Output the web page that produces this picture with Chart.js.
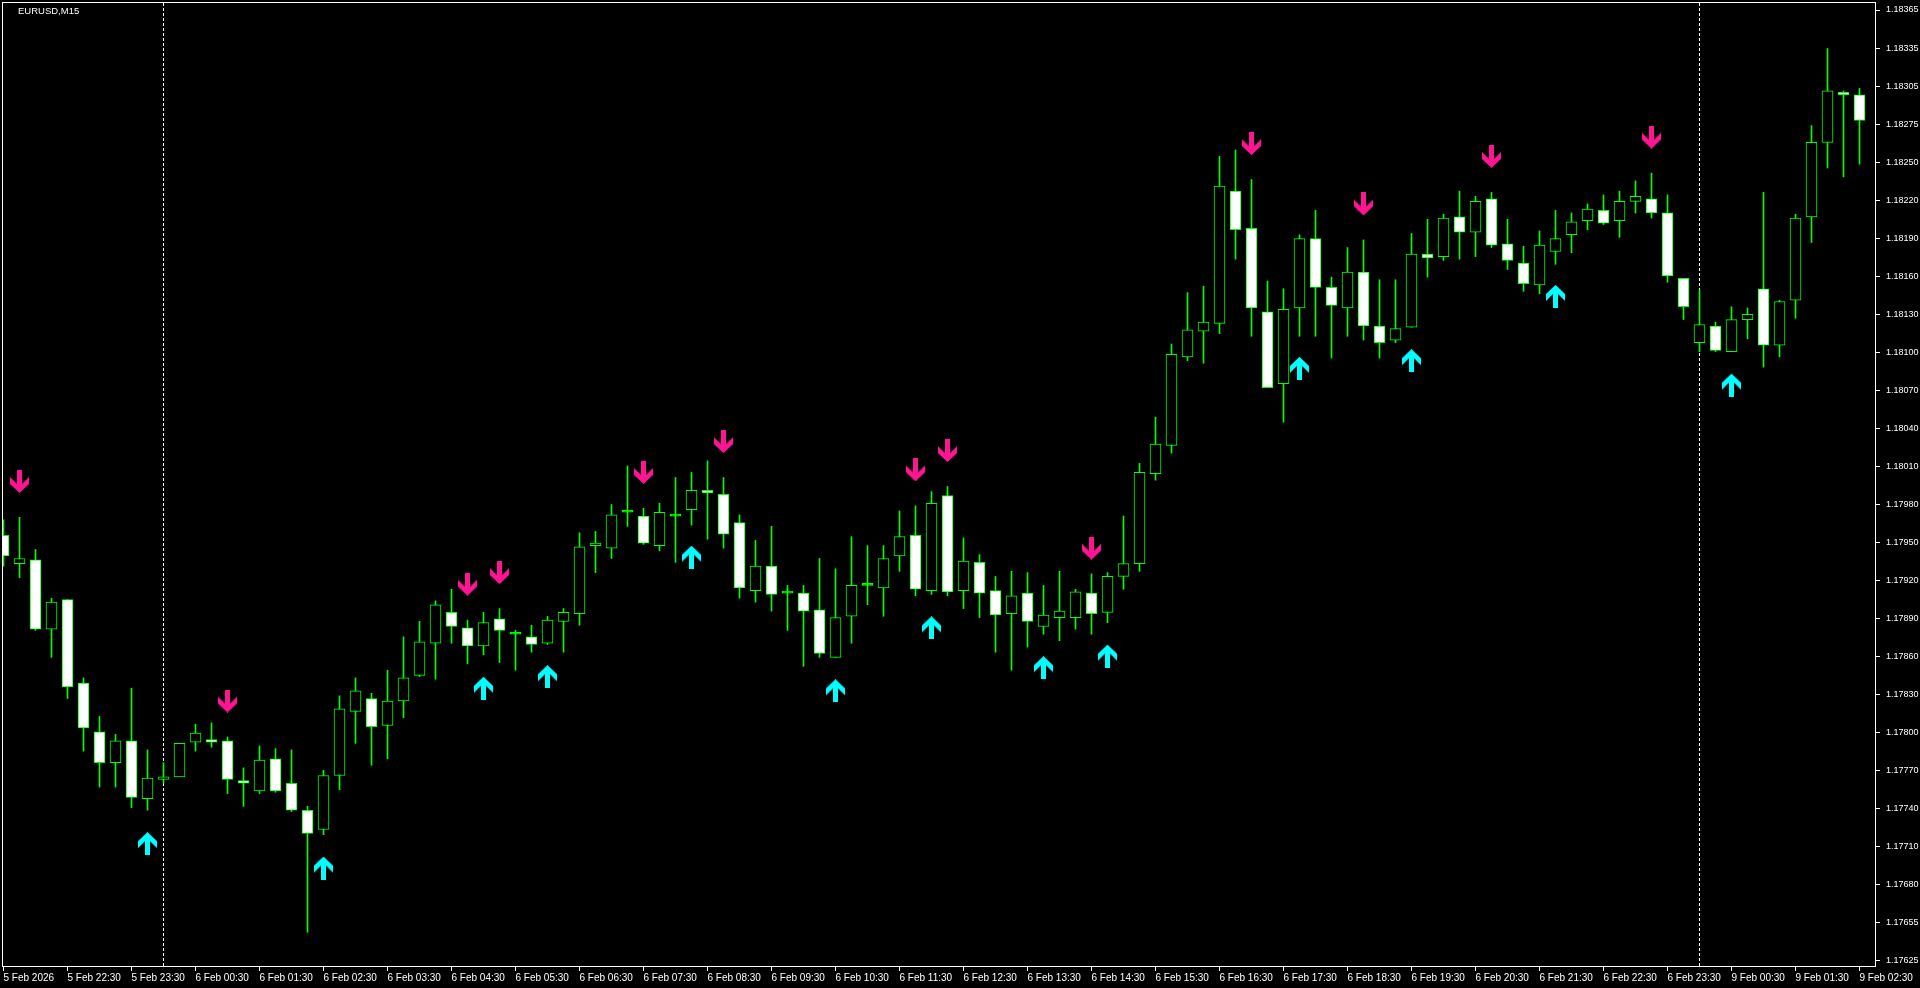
<!DOCTYPE html>
<html>
<head>
<meta charset="utf-8">
<title>EURUSD,M15</title>
<script src="https://cdn.jsdelivr.net/npm/chart.js@4.4.1/dist/chart.umd.min.js"></script>
<style>
  html, body { margin: 0; padding: 0; background: #000; overflow: hidden; }
  #chart { display: block; }
</style>
</head>
<body>
<canvas id="chart" width="1920" height="988"></canvas>
<script>
// EURUSD M15, 5 Feb 21:30 .. 9 Feb 02:30 (one entry per candle)
const opens = [
  1.17956, 1.17934, 1.17937, 1.17883, 1.17906, 1.17841, 1.17803, 1.17779, 1.17796, 1.17751,
  1.17766, 1.17768, 1.17795, 1.17797, 1.17796, 1.17765, 1.17757, 1.17782, 1.17763, 1.17742,
  1.17727, 1.17769, 1.17819, 1.17829, 1.17808, 1.17827, 1.17847, 1.17872, 1.17896, 1.17884,
  1.17870, 1.17891, 1.17879, 1.17877, 1.17872, 1.17889, 1.17895, 1.17948, 1.17946, 1.17974,
  1.17971, 1.17948, 1.17971, 1.17976, 1.17991, 1.17988, 1.17966, 1.17913, 1.17932, 1.17911,
  1.17911, 1.17898, 1.17861, 1.17893, 1.17917, 1.17915, 1.17940, 1.17956, 1.17913, 1.17987,
  1.17913, 1.17935, 1.17913, 1.17895, 1.17911, 1.17885, 1.17892, 1.17892, 1.17911, 1.17896,
  1.17924, 1.17934, 1.18004, 1.18026, 1.18095, 1.18115, 1.18121, 1.18224, 1.18195, 1.18130,
  1.18074, 1.18133, 1.18187, 1.18149, 1.18133, 1.18161, 1.18119, 1.18108, 1.18118, 1.18175,
  1.18173, 1.18204, 1.18192, 1.18218, 1.18183, 1.18168, 1.18151, 1.18177, 1.18190, 1.18201,
  1.18209, 1.18201, 1.18216, 1.18218, 1.18207, 1.18156, 1.18106, 1.18119, 1.18099, 1.18124,
  1.18148, 1.18104, 1.18139, 1.18204, 1.18262, 1.18301, 1.18299
];
const highs = [
  1.17968, 1.17970, 1.17945, 1.17907, 1.17906, 1.17845, 1.17815, 1.17801, 1.17837, 1.17789,
  1.17779, 1.17794, 1.17809, 1.17810, 1.17799, 1.17775, 1.17792, 1.17790, 1.17789, 1.17745,
  1.17773, 1.17831, 1.17845, 1.17833, 1.17851, 1.17877, 1.17889, 1.17905, 1.17914, 1.17890,
  1.17896, 1.17899, 1.17882, 1.17886, 1.17893, 1.17899, 1.17958, 1.17959, 1.17980, 1.18010,
  1.17977, 1.17981, 1.18001, 1.18005, 1.18014, 1.18001, 1.17972, 1.17952, 1.17963, 1.17917,
  1.17917, 1.17938, 1.17930, 1.17955, 1.17948, 1.17948, 1.17975, 1.17979, 1.17990, 1.17994,
  1.17954, 1.17941, 1.17924, 1.17928, 1.17927, 1.17917, 1.17928, 1.17914, 1.17926, 1.17927,
  1.17971, 1.18012, 1.18048, 1.18105, 1.18145, 1.18150, 1.18251, 1.18256, 1.18233, 1.18154,
  1.18148, 1.18190, 1.18209, 1.18157, 1.18180, 1.18186, 1.18155, 1.18155, 1.18191, 1.18202,
  1.18206, 1.18224, 1.18220, 1.18223, 1.18202, 1.18181, 1.18193, 1.18209, 1.18207, 1.18214,
  1.18221, 1.18224, 1.18232, 1.18238, 1.18221, 1.18156, 1.18147, 1.18122, 1.18134, 1.18133,
  1.18223, 1.18139, 1.18206, 1.18275, 1.18335, 1.18302, 1.18304
];
const lows = [
  1.17932, 1.17923, 1.17882, 1.17861, 1.17829, 1.17788, 1.17760, 1.17760, 1.17744, 1.17742,
  1.17763, 1.17768, 1.17788, 1.17791, 1.17755, 1.17745, 1.17755, 1.17756, 1.17741, 1.17647,
  1.17723, 1.17758, 1.17794, 1.17777, 1.17782, 1.17814, 1.17846, 1.17844, 1.17872, 1.17856,
  1.17863, 1.17857, 1.17851, 1.17865, 1.17871, 1.17865, 1.17886, 1.17927, 1.17938, 1.17963,
  1.17949, 1.17944, 1.17935, 1.17964, 1.17953, 1.17946, 1.17907, 1.17904, 1.17897, 1.17882,
  1.17854, 1.17861, 1.17861, 1.17872, 1.17902, 1.17893, 1.17928, 1.17909, 1.17910, 1.17909,
  1.17899, 1.17892, 1.17865, 1.17851, 1.17869, 1.17879, 1.17874, 1.17883, 1.17879, 1.17888,
  1.17914, 1.17928, 1.17999, 1.18020, 1.18092, 1.18090, 1.18113, 1.18171, 1.18111, 1.18071,
  1.18044, 1.18111, 1.18111, 1.18094, 1.18111, 1.18108, 1.18094, 1.18106, 1.18118, 1.18157,
  1.18170, 1.18171, 1.18173, 1.18180, 1.18163, 1.18146, 1.18144, 1.18167, 1.18176, 1.18194,
  1.18198, 1.18188, 1.18207, 1.18203, 1.18153, 1.18124, 1.18099, 1.18099, 1.18099, 1.18109,
  1.18087, 1.18095, 1.18125, 1.18184, 1.18242, 1.18235, 1.18245
];
const closes = [
  1.17940, 1.17938, 1.17883, 1.17904, 1.17838, 1.17806, 1.17779, 1.17796, 1.17752, 1.17767,
  1.17768, 1.17794, 1.17802, 1.17795, 1.17766, 1.17763, 1.17781, 1.17757, 1.17742, 1.17724,
  1.17769, 1.17821, 1.17835, 1.17807, 1.17827, 1.17845, 1.17873, 1.17902, 1.17885, 1.17870,
  1.17888, 1.17882, 1.17879, 1.17871, 1.17890, 1.17896, 1.17947, 1.17950, 1.17972, 1.17974,
  1.17950, 1.17974, 1.17971, 1.17991, 1.17989, 1.17957, 1.17915, 1.17932, 1.17910, 1.17911,
  1.17897, 1.17864, 1.17892, 1.17917, 1.17917, 1.17938, 1.17955, 1.17914, 1.17981, 1.17912,
  1.17936, 1.17911, 1.17894, 1.17909, 1.17889, 1.17894, 1.17897, 1.17912, 1.17895, 1.17924,
  1.17934, 1.18005, 1.18027, 1.18097, 1.18116, 1.18122, 1.18228, 1.18194, 1.18133, 1.18071,
  1.18132, 1.18187, 1.18149, 1.18135, 1.18161, 1.18119, 1.18106, 1.18117, 1.18175, 1.18172,
  1.18203, 1.18192, 1.18216, 1.18182, 1.18170, 1.18152, 1.18182, 1.18187, 1.18200, 1.18210,
  1.18199, 1.18216, 1.18220, 1.18207, 1.18158, 1.18134, 1.18120, 1.18100, 1.18124, 1.18128,
  1.18104, 1.18138, 1.18203, 1.18262, 1.18302, 1.18299, 1.18279
];

// indicator arrows: candle index and price where the arrow sits
const sellIdx = [1, 14, 29, 31, 40, 45, 57, 59, 68, 78, 85, 93, 103];
const sellVal = [1.17998, 1.17827, 1.17918, 1.17927, 1.18005, 1.18029, 1.18007, 1.18022, 1.17946, 1.18261, 1.18214, 1.18251, 1.18266];
const buyIdx = [9, 20, 30, 34, 43, 52, 58, 65, 69, 81, 88, 97, 108];
const buyVal = [1.17716, 1.17697, 1.17837, 1.17846, 1.17939, 1.17835, 1.17884, 1.17853, 1.17862, 1.18086, 1.18092, 1.18142, 1.18073];

// time labels, one every 4 candles (hourly)
const timeLabels = [
  '5 Feb 2026', '5 Feb 22:30', '5 Feb 23:30', '6 Feb 00:30', '6 Feb 01:30', '6 Feb 02:30',
  '6 Feb 03:30', '6 Feb 04:30', '6 Feb 05:30', '6 Feb 06:30', '6 Feb 07:30', '6 Feb 08:30',
  '6 Feb 09:30', '6 Feb 10:30', '6 Feb 11:30', '6 Feb 12:30', '6 Feb 13:30', '6 Feb 14:30',
  '6 Feb 15:30', '6 Feb 16:30', '6 Feb 17:30', '6 Feb 18:30', '6 Feb 19:30', '6 Feb 20:30',
  '6 Feb 21:30', '6 Feb 22:30', '6 Feb 23:30', '9 Feb 00:30', '9 Feb 01:30', '9 Feb 02:30'
];
const priceLabels = [
  '1.18365', '1.18335', '1.18305', '1.18275', '1.18250', '1.18220', '1.18190', '1.18160', '1.18130',
  '1.18100', '1.18070', '1.18040', '1.18010', '1.17980', '1.17950', '1.17920', '1.17890', '1.17860',
  '1.17830', '1.17800', '1.17770', '1.17740', '1.17710', '1.17680', '1.17655', '1.17625'
];
// candles where a new day starts
const dayStarts = [10, 106];

const LIME = '#00ff00';
const fontFamily = '"Liberation Sans", Arial, sans-serif';

function arrowImage(color, pointingDown) {
  const c = document.createElement('canvas');
  c.width = 19;
  c.height = 23;
  const g = c.getContext('2d');
  const pts = [[7, 0], [12, 0], [12, 14], [19, 7], [19, 14], [9.5, 23], [0, 14], [0, 7], [7, 14]];
  g.beginPath();
  pts.forEach(([x, y], k) => {
    const yy = pointingDown ? y : 23 - y;
    if (k === 0) g.moveTo(x, yy); else g.lineTo(x, yy);
  });
  g.closePath();
  g.fillStyle = color;
  g.fill();
  return c;
}

const framePlugin = {
  id: 'mtFrame',
  beforeDatasetsDraw(chart) {
    const { ctx, chartArea, scales } = chart;
    ctx.save();
    ctx.strokeStyle = '#ffffff';
    ctx.lineWidth = 1;
    ctx.setLineDash([3, 2]);
    dayStarts.forEach(i => {
      const x = scales.x.getPixelForValue(i);
      ctx.beginPath();
      ctx.moveTo(x, chartArea.top);
      ctx.lineTo(x, chartArea.bottom);
      ctx.stroke();
    });
    ctx.restore();
  },
  afterDraw(chart) {
    const { ctx, chartArea } = chart;
    ctx.save();
    ctx.strokeStyle = '#ffffff';
    ctx.lineWidth = 1;
    ctx.strokeRect(chartArea.left - 0.5, chartArea.top - 0.5,
      chartArea.right - chartArea.left + 1, chartArea.bottom - chartArea.top);
    ctx.fillStyle = '#ffffff';
    ctx.font = '9.5px ' + fontFamily;
    ctx.textBaseline = 'alphabetic';
    ctx.fillText('EURUSD,M15', 18, 14);
    ctx.restore();
  }
};

const idx = opens.map((_, i) => i);

new Chart(document.getElementById('chart'), {
  type: 'bar',
  data: {
    datasets: [
      {
        label: 'wicks',
        data: idx.map(i => ({ x: i, y: [lows[i], highs[i]] })),
        backgroundColor: LIME,
        borderWidth: 0,
        barThickness: 1,
        grouped: false,
        order: 3
      },
      {
        label: 'bodies',
        data: idx.map(i => ({ x: i, y: [opens[i], closes[i]] })),
        backgroundColor: ctx => {
          const i = ctx.dataIndex;
          if (closes[i] > opens[i]) return '#000000';
          if (closes[i] < opens[i]) return '#ffffff';
          return LIME;
        },
        borderColor: LIME,
        borderWidth: 1,
        borderSkipped: false,
        barThickness: 11,
        minBarLength: 2,
        grouped: false,
        order: 2
      },
      {
        type: 'scatter',
        label: 'sell',
        data: sellIdx.map((x, k) => ({ x, y: sellVal[k] })),
        pointStyle: arrowImage('#ff1493', true),
        pointRadius: 10,
        order: 1
      },
      {
        type: 'scatter',
        label: 'buy',
        data: buyIdx.map((x, k) => ({ x, y: buyVal[k] })),
        pointStyle: arrowImage('#00ffff', false),
        pointRadius: 10,
        order: 1
      }
    ]
  },
  options: {
    responsive: false,
    animation: false,
    devicePixelRatio: 1,
    events: [],
    layout: { autoPadding: false, padding: { left: 3, top: 3, right: 0, bottom: 0 } },
    plugins: {
      legend: { display: false },
      tooltip: { enabled: false },
      title: { display: false }
    },
    scales: {
      x: {
        type: 'linear',
        min: -0.03125,
        max: 116.96875,
        offset: false,
        afterBuildTicks: axis => {
          axis.ticks = timeLabels.map((t, k) => ({ value: k * 4 }));
        },
        afterFit: axis => {
          axis.height = 21;
          axis.paddingLeft = 0;
          axis.paddingRight = 0;
        },
        grid: {
          display: true,
          drawOnChartArea: false,
          drawTicks: true,
          tickLength: 4,
          color: '#ffffff',
          tickColor: '#ffffff',
          offset: false
        },
        border: { display: false },
        ticks: {
          autoSkip: false,
          maxRotation: 0,
          minRotation: 0,
          align: 'start',
          padding: 1,
          color: '#ffffff',
          font: { family: fontFamily, size: 10 },
          callback: (v, k) => timeLabels[k]
        }
      },
      y: {
        position: 'right',
        beginAtZero: false,
        min: 1.1761994,
        max: 1.1837045,
        afterBuildTicks: axis => {
          const top = parseFloat(priceLabels[0]);
          const bottom = parseFloat(priceLabels[priceLabels.length - 1]);
          const step = (top - bottom) / (priceLabels.length - 1);
          axis.ticks = priceLabels.map((t, k) => ({ value: top - k * step }));
        },
        afterFit: axis => {
          axis.width = 45;
          axis.paddingTop = 0;
          axis.paddingBottom = 0;
        },
        grid: {
          display: true,
          drawOnChartArea: false,
          drawTicks: true,
          tickLength: 5,
          color: '#ffffff',
          tickColor: '#ffffff'
        },
        border: { display: false },
        ticks: {
          autoSkip: false,
          padding: 6,
          color: '#ffffff',
          font: { family: fontFamily, size: 9 },
          callback: (v, k) => priceLabels[k]
        }
      }
    }
  },
  plugins: [framePlugin]
});
</script>
</body>
</html>
